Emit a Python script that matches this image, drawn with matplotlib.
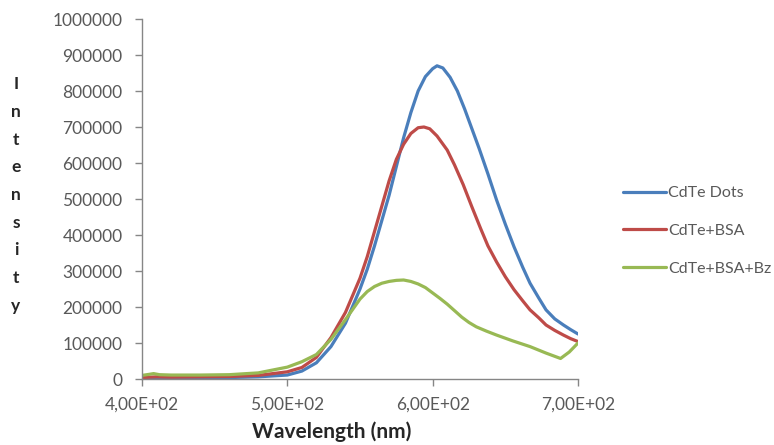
import matplotlib
matplotlib.use("Agg")
import matplotlib.pyplot as plt
from matplotlib.ticker import FixedLocator, FuncFormatter

plt.rcParams['font.family'] = ['Lato', 'DejaVu Sans']

# ---- data ----
x_dots = [400, 420, 440, 460, 480, 500, 510, 520, 530, 540, 550, 555, 560, 565, 570, 575,
          580, 585, 590, 595, 600, 603, 607, 612, 617, 622, 627, 632, 638, 644, 650, 656,
          662, 667, 673, 678, 684, 690, 695, 700]
y_dots = [2e3, 2e3, 3e3, 4e3, 6e3, 11e3, 22e3, 45e3, 90e3, 155e3, 250e3, 305e3, 370e3, 440e3,
          510e3, 590e3, 670e3, 740e3, 800e3, 840e3, 862e3, 870e3, 864e3, 838e3, 800e3, 750e3,
          695e3, 640e3, 570e3, 497e3, 430e3, 367e3, 310e3, 266e3, 225e3, 192e3, 167e3, 150e3,
          137e3, 125e3]

x_bsa = [400, 410, 420, 440, 460, 480, 500, 510, 520, 530, 540, 550, 555, 560, 565, 570, 575,
         580, 585, 590, 594, 598, 603, 610, 615, 621, 627, 633, 638, 644, 650, 656, 662, 667,
         673, 678, 684, 690, 695, 700]
y_bsa = [4e3, 6e3, 5e3, 6e3, 7e3, 10e3, 20e3, 32e3, 60e3, 115e3, 185e3, 280e3, 340e3, 410e3,
         480e3, 550e3, 610e3, 652e3, 682e3, 698e3, 700e3, 695e3, 675e3, 636e3, 595e3, 540e3,
         478e3, 418e3, 370e3, 325e3, 284e3, 248e3, 217e3, 192e3, 170e3, 150e3, 135e3, 122e3,
         112e3, 104e3]

x_bz = [400, 405, 408, 412, 420, 440, 460, 480, 500, 510, 520, 530, 540, 550, 555, 560, 565,
        570, 575, 580, 585, 590, 595, 600, 605, 610, 615, 620, 625, 630, 637, 644, 655, 667,
        678, 688, 694, 700]
y_bz = [10e3, 13e3, 15e3, 12e3, 11e3, 11e3, 12e3, 17e3, 33e3, 48e3, 68e3, 110e3, 165e3, 222e3,
        243e3, 257e3, 266e3, 271e3, 274e3, 275e3, 271e3, 264e3, 254e3, 239e3, 224e3, 208e3,
        190e3, 172e3, 157e3, 145e3, 133e3, 122e3, 106e3, 90e3, 72e3, 57e3, 75e3, 100e3]

labels = ["CdTe Dots", "CdTe+BSA", "CdTe+BSA+Bz"]
colors = ["#4A7EBB", "#BE4B48", "#98B954"]
x_ticks = [400, 500, 600, 700]
y_ticks = [0, 100000, 200000, 300000, 400000, 500000, 600000, 700000, 800000, 900000, 1000000]

fig = plt.figure(figsize=(7.74, 4.45), dpi=100)
ax = fig.add_axes([142/774, 1-379/445, (578-142)/774, (379-19)/445])

series = [(x_dots, y_dots), (x_bsa, y_bsa), (x_bz, y_bz)]
for (xs, ys), lab, c in zip(series, labels, colors):
    ax.plot(xs, ys, color=c, lw=2.3, label=lab, solid_joinstyle='round', solid_capstyle='round')

ax.set_xlim(400, 700)
ax.set_ylim(0, 1000000)
ax.xaxis.set_major_locator(FixedLocator(x_ticks))
ax.yaxis.set_major_locator(FixedLocator(y_ticks))
ax.xaxis.set_major_formatter(FuncFormatter(lambda v, p: ("%.2E" % v).replace('.', ',')))
ax.yaxis.set_major_formatter(FuncFormatter(lambda v, p: "%d" % v))

for s in ['top', 'right']:
    ax.spines[s].set_visible(False)
for s in ['left', 'bottom']:
    ax.spines[s].set_color('#868686')
    ax.spines[s].set_linewidth(1.0)
ax.tick_params(axis='both', direction='out', length=5, width=1, color='#868686',
               labelcolor='#595959', labelsize=12.5)
ax.tick_params(axis='y', pad=9)
ax.tick_params(axis='x', pad=8)

fig.text(332/774, 1-432/445, "Wavelength (nm)", ha='center', va='center',
         fontsize=15, fontweight='bold', color='#262626')
fig.text(16/774, 1-195/445, "\n".join("Intensity"), ha='center', va='center',
         fontsize=12.5, fontweight='bold', color='#262626', linespacing=1.9)

leg = fig.legend(loc='upper left', bbox_to_anchor=(623/774, 1-186/445), frameon=False,
                 fontsize=11.5, handlelength=2.7, handletextpad=0.12, labelspacing=1.48,
                 labelcolor='#595959', borderaxespad=0, borderpad=0)

fig.savefig("out.png", dpi=100)
